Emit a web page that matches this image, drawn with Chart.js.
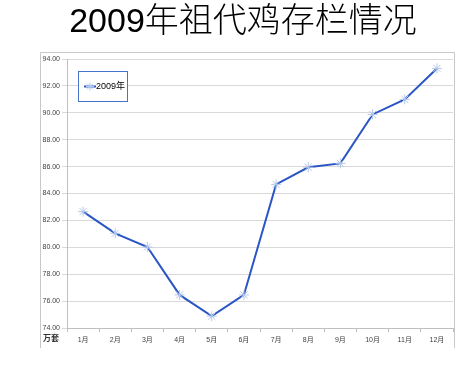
<!DOCTYPE html>
<html lang='zh'>
<head>
<meta charset='UTF-8'>
<title>2009年祖代鸡存栏情况</title>
<script src="https://cdn.jsdelivr.net/npm/chart.js"></script>
<style>
  body { margin: 0; background: #fff; }
  #wrap { position: relative; width: 472px; height: 375px; }
</style>
</head>
<body>
<div id="wrap"><canvas id="myChart" width="472" height="375"></canvas></div>
<script>
const chart_title = '2009年祖代鸡存栏情况';
const series_name = '2009年';
const unit_label = '万套';
const months = ['1月', '2月', '3月', '4月', '5月', '6月', '7月', '8月', '9月', '10月', '11月', '12月'];
const stock = [82.65, 81.04, 80.02, 76.46, 74.88, 76.46, 84.68, 85.95, 86.24, 89.88, 91.0, 93.3];
const y_min = 74;
const y_max = 94;
const y_step = 2;

const line_color = '#2a55c4';
const mark_color = '#b3c8ea';
const font_fam = '"Liberation Sans", "Noto Sans CJK SC", sans-serif';

// title, frame, legend box and unit label drawn on top of the chart
const extras = {
    id: 'extras',
    beforeDraw(chart) {
        const ctx = chart.ctx;
        ctx.save();
        ctx.fillStyle = '#fff';
        ctx.fillRect(0, 0, chart.width, chart.height);
        ctx.strokeStyle = '#c8c8c8';
        ctx.lineWidth = 1;
        ctx.beginPath();
        ctx.moveTo(40.5, 348);
        ctx.lineTo(40.5, 52.5);
        ctx.lineTo(454.5, 52.5);
        ctx.lineTo(454.5, 348);
        ctx.stroke();
        ctx.restore();
    },
    afterDraw(chart) {
        const ctx = chart.ctx;
        ctx.save();
        ctx.fillStyle = '#000';
        ctx.textAlign = 'center';
        ctx.textBaseline = 'middle';
        ctx.font = '300 34px ' + font_fam;
        ctx.fillText(chart_title, 243, 23);

        ctx.font = 'bold 8px "Liberation Serif", "Noto Sans CJK SC", serif';
        ctx.fillStyle = '#333';
        ctx.fillText(unit_label, 51, 339);

        // legend
        ctx.fillStyle = '#fff';
        ctx.fillRect(78.5, 71.5, 49, 30);
        ctx.strokeStyle = '#4a72c8';
        ctx.lineWidth = 1;
        ctx.strokeRect(78.5, 71.5, 49, 30);
        ctx.strokeStyle = line_color;
        ctx.lineWidth = 2;
        ctx.beginPath();
        ctx.moveTo(84, 86.5);
        ctx.lineTo(96, 86.5);
        ctx.stroke();
        ctx.strokeStyle = mark_color;
        ctx.lineWidth = 1;
        Chart.helpers.drawPoint(ctx, { pointStyle: 'star', radius: 4, borderWidth: 1 }, 90, 86.5);
        ctx.fillStyle = '#000';
        ctx.textAlign = 'left';
        ctx.font = '9px ' + font_fam;
        ctx.fillText(series_name, 96, 87);
        ctx.restore();
    }
};

new Chart(document.getElementById('myChart'), {
    type: 'line',
    data: {
        labels: months,
        datasets: [{
            label: series_name,
            data: stock,
            borderColor: line_color,
            borderWidth: 2,
            tension: 0,
            pointStyle: 'star',
            pointRadius: 5,
            pointBorderColor: mark_color,
            pointBorderWidth: 1,
            pointBackgroundColor: mark_color
        }]
    },
    options: {
        responsive: false,
        animation: false,
        clip: false,
        layout: { padding: { left: 40, top: 59, right: 19, bottom: 27 } },
        plugins: {
            legend: { display: false },
            title: { display: false },
            tooltip: { enabled: false }
        },
        scales: {
            x: {
                offset: true,
                afterFit: (s) => { s.height = 20; },
                border: { color: '#bfbfbf' },
                grid: { offset: true, drawOnChartArea: false, tickLength: 4, color: '#bfbfbf' },
                ticks: {
                    color: '#404040',
                    padding: 4,
                    font: { family: font_fam, size: 7 }
                }
            },
            y: {
                min: y_min,
                max: y_max,
                afterFit: (s) => { s.width = 27; },
                border: { color: '#bfbfbf' },
                grid: { color: '#d9d9d9', tickLength: 5 },
                ticks: {
                    stepSize: y_step,
                    color: '#404040',
                    padding: 2,
                    font: { family: font_fam, size: 7 },
                    callback: (v) => v.toFixed(2)
                }
            }
        }
    },
    plugins: [extras]
});
</script>
</body>
</html>
